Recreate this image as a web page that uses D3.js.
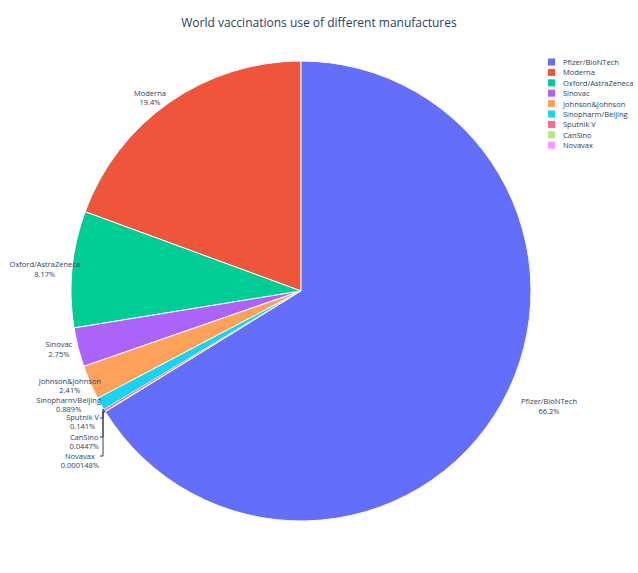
<!DOCTYPE html><html><head><meta charset="utf-8"><script src="https://cdn.jsdelivr.net/npm/d3@7"></script>
<style>body{margin:0;background:#fff}text{font-family:"Open Sans",sans-serif}</style></head><body><svg id="c" width="638" height="573"></svg>
<script>
const labels=["Pfizer/BioNTech","Moderna","Oxford/AstraZeneca","Sinovac","Johnson&Johnson","Sinopharm/Beijing","Sputnik V","CanSino","Novavax"];
const values=[66.2,19.4,8.17,2.75,2.41,0.889,0.141,0.0447,0.000148];
const pctText=["66.2%","19.4%","8.17%","2.75%","2.41%","0.889%","0.141%","0.0447%","0.000148%"];
const colors=["#636efa","#EF553B","#00cc96","#ab63fa","#FFA15A","#19d3f3","#FF6692","#B6E880","#FF97FF"];
const svg=d3.select("#c");
const cx=301,cy=291,R=230;
svg.append("text").attr("x",319).attr("y",27).attr("text-anchor","middle").attr("font-size",12).attr("fill","#2a3f5f").text("World vaccinations use of different manufactures");
const order=[1,2,3,4,5,6,7,8,0];
const total=d3.sum(values);
const ang=d3.scaleLinear().domain([0,total]).range([0,-2*Math.PI]);
const g=svg.append("g").attr("transform",`translate(${cx},${cy})`);
const arc=d3.arc().innerRadius(0).outerRadius(R);
let acc=0;const mids={};
order.forEach(i=>{const a0=ang(acc),a1=ang(acc+values[i]);acc+=values[i];
 mids[i]=(a0+a1)/2;
 g.append("path").attr("d",arc({startAngle:a1,endAngle:a0})).attr("fill",colors[i]).attr("stroke","#fff").attr("stroke-width",i>=6?0.3:1);
});
const fixedY={4:385,5:404,6:421,7:441,8:460};
const xShift={0:14,2:14};
const lab=svg.append("g").attr("font-size",7.5).attr("fill","#2a3f5f");
labels.forEach((l,i)=>{
 const a=mids[i];const Rl=R+6;
 let x=cx+Math.sin(a)*Rl, y=cy-Math.cos(a)*Rl;
 const left=Math.sin(a)<0;
 if(xShift[i])x+=xShift[i];
 if(fixedY[i]!==undefined){y=fixedY[i];x=i>=6?99:101;}
 const t=lab.append("text").attr("text-anchor","middle");
 const t1=t.append("tspan").text(l), t2=t.append("tspan").text(pctText[i]);
 const w=Math.max(t1.node().getComputedTextLength(),t2.node().getComputedTextLength());
 const xc=left?x-w/2:x+w/2;
 t1.attr("x",xc).attr("y",y-1.5);t2.attr("x",xc).attr("y",y+8);
});
const lp=svg.append("g").attr("stroke","#2a3f5f").attr("stroke-width",1).attr("fill","none");
[[6,409,418],[7,411,437],[8,412,456]].forEach(([i,sy,ly])=>{
 const a=mids[i];const px=cx+Math.sin(a)*R,py=cy-Math.cos(a)*R;
 lp.append("path").attr("d",`M${px},${py}L103,${sy}L103,${ly}L100,${ly}`);
});
const leg=svg.append("g").attr("font-size",7.5).attr("fill","#2a3f5f");
labels.forEach((l,i)=>{const y=62+i*10.4;
 leg.append("rect").attr("x",548).attr("y",y-3.5).attr("width",7).attr("height",7).attr("fill",colors[i]);
 leg.append("text").attr("x",563).attr("y",y+3).text(l);
});
</script></body></html>
